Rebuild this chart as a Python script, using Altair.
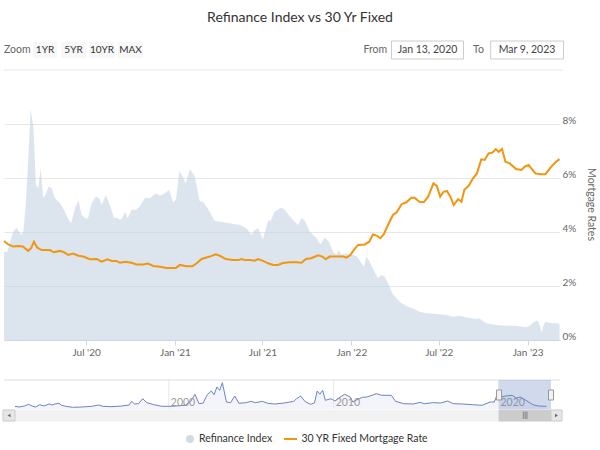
import altair as alt
import pandas as pd

FONT = "Lato"
TITLE = "Refinance Index vs 30 Yr Fixed"

# ---- Refinance Index (weekly, hidden left scale) ----
refi_dates = ["2020-01-13","2020-01-20","2020-02-01","2020-02-08","2020-02-17","2020-02-22","2020-02-27","2020-03-03","2020-03-08","2020-03-14",
              "2020-03-19","2020-03-24","2020-03-29","2020-04-03","2020-04-08","2020-04-14","2020-04-21","2020-04-27","2020-05-08","2020-05-18",
              "2020-05-25","2020-05-31","2020-06-08","2020-06-15","2020-06-22","2020-06-29","2020-07-05","2020-07-12","2020-07-21","2020-07-28",
              "2020-08-02","2020-08-11","2020-08-19","2020-08-28","2020-09-03","2020-09-09","2020-09-14","2020-09-20","2020-09-25","2020-10-03",
              "2020-10-13","2020-10-20","2020-10-31","2020-11-10","2020-11-22","2020-12-01","2020-12-09","2020-12-20","2020-12-28","2021-01-03",
              "2021-01-10","2021-01-17","2021-01-23","2021-02-01","2021-02-11","2021-02-21","2021-02-28","2021-03-14","2021-03-24","2021-04-18",
              "2021-05-15","2021-05-29","2021-06-08","2021-06-15","2021-06-22","2021-07-02","2021-07-13","2021-07-18","2021-07-26","2021-08-09",
              "2021-08-16","2021-08-27","2021-09-06","2021-09-13","2021-09-20","2021-09-27","2021-10-07","2021-10-21","2021-10-29","2021-11-07",
              "2021-11-16","2021-11-24","2021-12-01","2021-12-06","2021-12-11","2021-12-22","2021-12-29","2022-01-04","2022-01-13","2022-01-22",
              "2022-01-27","2022-02-01","2022-02-08","2022-02-18","2022-02-25","2022-03-04","2022-03-11","2022-03-18","2022-03-28","2022-04-11",
              "2022-04-25","2022-05-09","2022-05-22","2022-06-05","2022-06-26","2022-07-17","2022-07-30","2022-08-13","2022-08-27","2022-09-17",
              "2022-09-23","2022-10-07","2022-10-28","2022-11-18","2022-12-08","2022-12-22","2022-12-30","2023-01-05","2023-01-15","2023-01-22",
              "2023-01-27","2023-01-30","2023-02-03","2023-02-07","2023-02-19","2023-03-04","2023-03-08"]
refi_values = [3270,3270,4010,4160,3890,4010,5000,6600,8560,7850,
               5740,5630,6380,5260,5370,5680,5620,5260,5070,4750,
               4480,4320,4880,5180,4630,4510,4510,5060,5310,5250,
               5000,5370,5000,4510,4530,4440,4530,4750,4510,4820,
               4820,4940,5270,5250,5430,5350,5420,5560,5100,5190,
               6260,6050,5800,6330,6050,5150,5120,4750,4420,4340,
               4260,4140,3890,4070,4140,3740,4440,4410,4750,4900,
               4820,4570,4380,4260,4530,4410,4010,3770,3550,3790,
               3640,3270,3170,3330,3170,3210,3150,3170,3090,2840,
               2720,3100,2900,2530,2290,2410,2350,2100,1690,1420,
               1260,1170,1050,990,960,930,860,900,830,780,
               800,620,560,530,530,490,470,530,680,720,
               490,290,560,680,620,620,580]

# ---- 30 YR Fixed Mortgage Rate (%) ----
rate_dates = ["2020-01-13","2020-01-22","2020-02-01","2020-02-12","2020-02-21","2020-03-03","2020-03-09","2020-03-15","2020-03-22","2020-03-31",
              "2020-04-10","2020-04-17","2020-04-25","2020-05-08","2020-05-16","2020-05-25","2020-06-04","2020-06-15","2020-06-25","2020-07-09",
              "2020-07-23","2020-08-02","2020-08-14","2020-08-23","2020-09-02","2020-09-09","2020-09-21","2020-10-03","2020-10-13","2020-10-27",
              "2020-11-06","2020-11-17","2020-12-01","2020-12-15","2021-01-03","2021-01-11","2021-01-25","2021-02-06","2021-02-15","2021-02-25",
              "2021-03-14","2021-03-26","2021-04-04","2021-04-16","2021-05-01","2021-05-12","2021-05-19","2021-05-25","2021-06-05","2021-06-15",
              "2021-06-22","2021-07-02","2021-07-13","2021-07-23","2021-08-02","2021-08-11","2021-08-16","2021-08-27","2021-09-09","2021-09-20",
              "2021-09-29","2021-10-10","2021-10-24","2021-11-02","2021-11-09","2021-11-17","2021-12-01","2021-12-15","2021-12-22","2021-12-30",
              "2022-01-06","2022-01-15","2022-01-29","2022-02-07","2022-02-15","2022-02-23","2022-03-02","2022-03-09","2022-03-18","2022-03-28",
              "2022-04-05","2022-04-15","2022-04-25","2022-05-05","2022-05-12","2022-05-22","2022-05-31","2022-06-09","2022-06-20","2022-06-27",
              "2022-07-04","2022-07-11","2022-07-18","2022-07-25","2022-08-01","2022-08-10","2022-08-17","2022-08-23","2022-09-01","2022-09-10",
              "2022-09-18","2022-09-27","2022-10-04","2022-10-12","2022-10-20","2022-10-27","2022-11-02","2022-11-09","2022-11-16","2022-11-25",
              "2022-12-08","2022-12-19","2022-12-26","2023-01-03","2023-01-17","2023-01-27","2023-02-07","2023-02-19","2023-03-01","2023-03-08"]
rate_values = [3.67,3.54,3.46,3.48,3.46,3.30,3.40,3.64,3.42,3.33,
               3.33,3.33,3.25,3.30,3.25,3.15,3.20,3.12,3.09,2.99,
               3.00,2.90,2.99,2.93,2.93,2.86,2.90,2.86,2.80,2.80,
               2.83,2.74,2.71,2.67,2.67,2.78,2.73,2.73,2.84,3.00,
               3.09,3.17,3.12,3.00,2.96,2.96,3.00,2.96,2.96,2.94,
               3.00,2.93,2.84,2.78,2.78,2.84,2.86,2.88,2.88,2.86,
               3.00,3.03,3.14,3.09,2.99,3.09,3.09,3.09,3.05,3.15,
               3.33,3.52,3.54,3.64,3.91,3.86,3.77,3.91,4.26,4.63,
               4.73,5.03,5.10,5.27,5.27,5.12,5.10,5.31,5.80,5.71,
               5.31,5.49,5.52,5.31,5.00,5.22,5.12,5.56,5.71,5.99,
               6.17,6.69,6.67,6.91,6.94,7.07,6.97,7.07,6.60,6.54,
               6.33,6.30,6.42,6.48,6.17,6.14,6.14,6.42,6.60,6.70]

# ---- Navigator: long-run Refinance Index ----
nav_months = ["1990-09","1990-12","1991-04","1991-07","1991-10","1991-12","1992-03","1992-06","1992-10","1992-12",
              "1993-02","1993-05","1993-07","1993-10","1994-03","1994-10","1995-05","1995-10","1996-01","1996-07",
              "1997-03","1997-08","1997-10","1997-12","1998-03","1998-06","1998-09","1999-02","1999-08","2000-03",
              "2001-01","2001-05","2001-08","2001-11","2002-02","2002-05","2002-08","2002-10","2002-12","2003-02",
              "2003-04","2003-07","2003-10","2004-01","2004-04","2004-09","2005-01","2005-04","2005-09","2006-01",
              "2006-06","2007-01","2007-08","2007-10","2008-01","2008-04","2008-08","2008-11","2009-01","2009-03",
              "2009-05","2009-07","2009-11","2010-02","2010-05","2010-09","2011-01","2011-03","2011-06","2011-10",
              "2012-01","2012-05","2012-08","2012-12","2013-03","2013-07","2013-10","2014-04","2014-11","2015-04",
              "2015-07","2016-01","2016-07","2016-12","2017-04","2017-11","2018-06","2019-01","2019-07","2019-10",
              "2019-12","2020-03","2020-06","2020-11","2021-02","2021-05","2021-09","2022-02","2022-06","2022-12"]
nav_values = [931,690,1034,1620,931,690,1483,1034,1724,1379,
              1724,1965,1276,931,586,690,931,1379,931,793,
              1034,1379,2655,1724,1827,3551,2172,1483,931,931,
              1276,2655,5069,1827,2069,4931,6206,4931,7586,6448,
              9068,2414,2172,4482,1965,2172,2655,2172,2655,1965,
              1724,2069,2655,3551,4482,2655,1620,2069,6206,5069,
              6448,3000,3551,2758,3896,5069,4138,2414,3207,4034,
              4138,4724,5275,4724,4724,4724,2655,1827,1724,2310,
              1827,2172,2069,2758,1827,1724,1483,1276,2414,2414,
              4931,4138,4482,4724,3793,4138,3000,1483,1034,931]
nav_years = ["2000-01-01", "2010-01-01", "2020-01-01"]
nav_year_labels = ["2000", "2010", "2020"]

range_start = "2020-01-13"
range_end = "2023-03-09"
nav_start = "1990-01-01"
zoom_buttons = ["1YR", "5YR", "10YR", "MAX"]
x_ticks = ["2020-07-01", "2021-01-01", "2021-07-01", "2022-01-01", "2022-07-01", "2023-01-01"]
y_ticks = [0, 2, 4, 6, 8]
legend_names = ["Refinance Index", "30 YR Fixed Mortgage Rate"]

AREA_COLOR = "#c5d4e3"
LINE_COLOR = "#f0960f"
NAV_COLOR = "#6a84c6"


def dt(s):
    t = pd.Timestamp(s)
    return alt.DateTime(year=t.year, month=t.month, date=t.day)


refi_df = pd.DataFrame({"date": pd.to_datetime(refi_dates), "refi": refi_values})
rate_df = pd.DataFrame({"date": pd.to_datetime(rate_dates), "rate": rate_values})
nav_df = pd.DataFrame({"date": pd.to_datetime(nav_months), "refi": nav_values})
years_df = pd.DataFrame({"date": pd.to_datetime(nav_years), "label": nav_year_labels})
s, e = pd.Timestamp(range_start), pd.Timestamp(range_end)
sel_df = pd.DataFrame({"start": [s], "end": [e]})
edge_df = pd.DataFrame({"date": [s, e]})
mid_df = pd.DataFrame({"date": [s + (e - s) / 2]})
one = pd.DataFrame({"k": [0]})

main_x = alt.Scale(domain=[dt(range_start), dt(range_end)])
nav_x = alt.Scale(domain=[dt(nav_start), dt(range_end)], range=[0, 547])
nav_y = alt.Scale(domain=[0, 10000], range=[312, 283], nice=False, zero=False)

# ---- main plot ----
area = alt.Chart(refi_df).mark_area(color=AREA_COLOR, opacity=0.6).encode(
    x=alt.X("date:T", scale=main_x, axis=None),
    y=alt.Y("refi:Q", scale=alt.Scale(domain=[0, 9000], nice=False), axis=None),
)

line = alt.Chart(rate_df).mark_line(color=LINE_COLOR, strokeWidth=2).encode(
    x=alt.X("date:T", scale=main_x,
            axis=alt.Axis(values=[dt(v) for v in x_ticks],
                          labelExpr="timeFormat(datum.value, \"%b '%y\")",
                          title=None, grid=False, domainColor="#ccd6eb", tickColor="#ccd6eb",
                          tickSize=5, labelColor="#666666", labelFontSize=10, labelFont=FONT,
                          labelPadding=2, labelOverlap=False)),
    y=alt.Y("rate:Q", scale=alt.Scale(domain=[0, 9], nice=False),
            axis=alt.Axis(orient="right", values=y_ticks, labelExpr="datum.value + '%'",
                          grid=True, gridColor="#e6e6e6", domain=False, ticks=False,
                          labelColor="#666666", labelFontSize=10, labelFont=FONT, labelPadding=2,
                          labelOffset=-4,
                          title="Mortgage Rates", titleColor="#666666", titleFontSize=10.5,
                          titleFontWeight="normal", titleFont=FONT, titleAngle=90,
                          titleX=30, titleY=107, titleAlign="center", titleBaseline="middle")),
)

# ---- navigator ----
nav_area = alt.Chart(nav_df).mark_area(color="#335cad", opacity=0.06).encode(
    x=alt.X("date:T", scale=nav_x, axis=None),
    y=alt.Y("refi:Q", scale=nav_y, axis=None),
)
nav_grid = alt.Chart(years_df).mark_rule(color="#e6e6e6").encode(
    x=alt.X("date:T", scale=nav_x, axis=None), y=alt.value(283), y2=alt.value(312))
nav_line = alt.Chart(nav_df).mark_line(color=NAV_COLOR, strokeWidth=1).encode(
    x=alt.X("date:T", scale=nav_x, axis=None),
    y=alt.Y("refi:Q", scale=nav_y, axis=None),
)
nav_labels = alt.Chart(years_df).mark_text(align="left", dx=2, baseline="middle", color="#999999",
                                           fontSize=10.5, font=FONT).encode(
    x=alt.X("date:T", scale=nav_x, axis=None), y=alt.value(306), text="label:N")
nav_border = alt.Chart(one).mark_rule(color="#d9dde5").encode(
    x=alt.value(0), x2=alt.value(556), y=alt.value(283))
nav_mask = alt.Chart(sel_df).mark_rect(color="#6685c2", opacity=0.3).encode(
    x=alt.X("start:T", scale=nav_x, axis=None), x2="end:T", y=alt.value(283), y2=alt.value(312))
nav_handles = alt.Chart(edge_df).mark_point(
    shape="M-0.5,-1L0.5,-1L0.5,1L-0.5,1Z", size=100, filled=True, fill="#f2f2f2",
    stroke="#999999", strokeWidth=1, opacity=1).encode(
    x=alt.X("date:T", scale=nav_x, axis=None), y=alt.value(298))

# ---- scrollbar ----
def rect(x, x2, y, y2, **kw):
    return alt.Chart(one).mark_rect(**kw).encode(
        x=alt.value(x), x2=alt.value(x2), y=alt.value(y), y2=alt.value(y2))


def label(txt, x, y, **kw):
    kw.setdefault("font", FONT)
    return alt.Chart(one).mark_text(text=txt, **kw).encode(x=alt.value(x), y=alt.value(y))


track = rect(-1, 558, 313, 324, fill="#f2f2f2", stroke="#f2f2f2")
thumb = alt.Chart(sel_df).mark_rect(fill="#cccccc", stroke="#cccccc").encode(
    x=alt.X("start:T", scale=nav_x, axis=None), x2="end:T", y=alt.value(313), y2=alt.value(324))
btn_l = rect(-1, 11, 313, 324, fill="#e6e6e6", stroke="#cccccc")
btn_r = rect(547, 558, 313, 324, fill="#e6e6e6", stroke="#cccccc")
arr_l = alt.Chart(one).mark_point(shape="triangle-left", size=12, filled=True, color="#333333").encode(
    x=alt.value(5), y=alt.value(318.5))
arr_r = alt.Chart(one).mark_point(shape="triangle-right", size=12, filled=True, color="#333333").encode(
    x=alt.value(552.5), y=alt.value(318.5))
grip = alt.Chart(mid_df).mark_text(text="|||", fontSize=7, color="#333333", baseline="middle").encode(
    x=alt.X("date:T", scale=nav_x, axis=None), y=alt.value(318.5))

# ---- header ----
title = label(TITLE, 296, -79, fontSize=14, color="#333333", align="center", baseline="middle")
zoom_lbl = label("Zoom", 0, -47, fontSize=10.5, color="#666666", align="left", baseline="middle")
btn_x = [(29, 53), (57, 82), (85, 111), (114, 139)]
header = [title, zoom_lbl]
for name, (a, b) in zip(zoom_buttons, btn_x):
    header.append(rect(a, b, -55, -39, fill="#f7f7f7"))
    header.append(label(name, (a + b) / 2, -47, fontSize=10, color="#333333",
                        align="center", baseline="middle"))
header += [
    label("From", 359.5, -47, fontSize=10.5, color="#666666", align="left", baseline="middle"),
    rect(387.5, 459.5, -56, -38, fill="#ffffff", stroke="#cccccc"),
    label(pd.Timestamp(range_start).strftime("%b %-d, %Y"), 423.5, -47, fontSize=10.5,
          color="#444444", align="center", baseline="middle"),
    label("To", 469, -47, fontSize=10.5, color="#666666", align="left", baseline="middle"),
    rect(486.7, 559.5, -56, -38, fill="#ffffff", stroke="#cccccc"),
    label(pd.Timestamp(range_end).strftime("%b %-d, %Y"), 523, -47, fontSize=10.5,
          color="#444444", align="center", baseline="middle"),
    alt.Chart(one).mark_rule(color="#e6e6e6").encode(x=alt.value(0), x2=alt.value(559), y=alt.value(-27)),
]

# ---- legend ----
legend = [
    alt.Chart(one).mark_point(shape="circle", size=64, filled=True, color="#d3dce6", opacity=1).encode(
        x=alt.value(186), y=alt.value(342)),
    label(legend_names[0], 195, 342, fontSize=10.5, color="#333333", align="left", baseline="middle"),
    alt.Chart(one).mark_rule(color=LINE_COLOR, strokeWidth=2).encode(
        x=alt.value(280), x2=alt.value(293), y=alt.value(342)),
    label(legend_names[1], 297.5, 342, fontSize=10.5, color="#333333", align="left", baseline="middle"),
]

layers = [area, line, nav_area, nav_grid, nav_line, nav_labels, nav_border, nav_mask, nav_handles,
          track, thumb, btn_l, btn_r, arr_l, arr_r, grip] + header + legend

chart = alt.layer(*layers).resolve_scale(x="independent", y="independent").properties(
    width=556, height=243,
    autosize=alt.AutoSizeParams(type="none"),
    padding={"left": 4, "top": 97, "right": 40, "bottom": 110},
).configure(font=FONT, view=alt.ViewConfig(stroke=None))

chart.save("out.html", embed_options={"renderer": "svg", "actions": False})
